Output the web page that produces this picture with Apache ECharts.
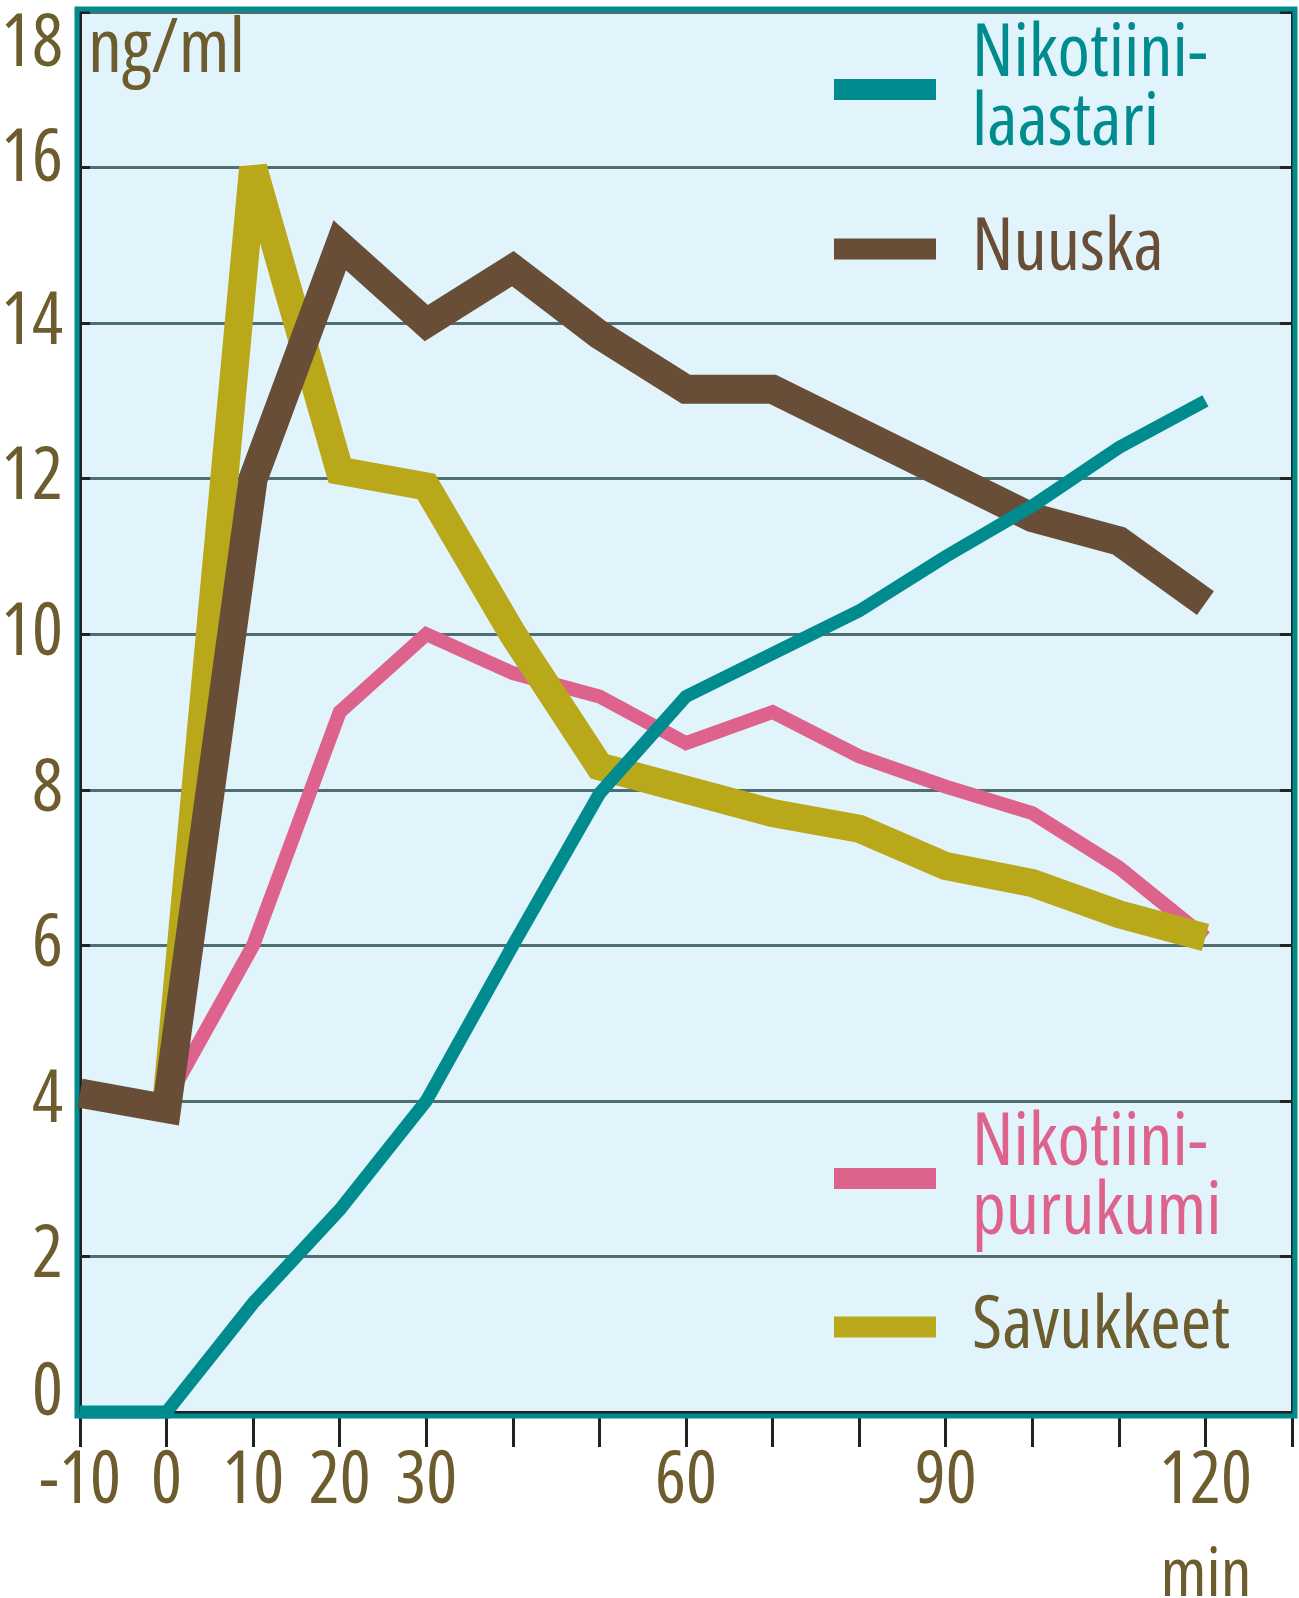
<!DOCTYPE html>
<html>
<head>
<meta charset="utf-8">
<script src="https://cdn.jsdelivr.net/npm/echarts@6/dist/echarts.min.js"></script>
<style>
  html, body { margin: 0; padding: 0; background: #ffffff; }
  #chart { width: 1299px; height: 1598px; }
</style>
</head>
<body>
<div id="chart"></div>
<script>
// ---- data ----
const minutes = [-10, 0, 10, 20, 30, 40, 50, 60, 70, 80, 90, 100, 110, 120];
const laastari = [0, 0, 1.4, 2.6, 4.0, 6.0, 7.95, 9.2, 9.75, 10.3, 11.0, 11.65, 12.4, 13.0];
const nuuska = [4.1, 3.9, 12.0, 15.0, 14.0, 14.7, 13.85, 13.15, 13.15, 12.6, 12.05, 11.5, 11.2, 10.4];
const purukumi = [null, 4.0, 6.0, 9.0, 10.0, 9.5, 9.2, 8.6, 9.0, 8.43, 8.04, 7.7, 7.0, 6.1];
const savukkeet = [null, 4.0, 16.0, 12.1, 11.9, 10.0, 8.3, 8.0, 7.7, 7.5, 7.02, 6.8, 6.4, 6.1];

const seriesNames = ['Nikotiinilaastari', 'Nuuska', 'Nikotiinipurukumi', 'Savukkeet'];
const legendLabels = ['Nikotiini-\nlaastari', 'Nuuska', 'Nikotiini-\npurukumi', 'Savukkeet'];
const xTickLabels = [-10, 0, 10, 20, 30, 60, 90, 120];
const yUnit = 'ng/ml';
const xUnit = 'min';

// ---- pick the narrowest installed sans font ----
const mctx = document.createElement('canvas').getContext('2d');
function measure(font, s) { mctx.font = '10px monospace'; mctx.font = font; return { w: mctx.measureText(s).width, f: mctx.font }; }
const CANDS = ['Liberation Sans Narrow', 'DejaVu Sans Condensed', 'Roboto Condensed', 'Open Sans Condensed', 'Noto Sans', 'Open Sans', 'Roboto', 'Liberation Sans', 'DejaVu Sans', 'Lato', 'Inter'];
const STRETCH = ['', 'ultra-condensed', 'extra-condensed', 'condensed', 'semi-condensed'];
const TEST = 'Nikotiini-laastari 0123456789';
const monoW = measure('100px monospace', TEST).w;
let best = { fam: 'Liberation Sans', st: '', w: Infinity };
for (const fam of CANDS) {
  const base = measure('100px "' + fam + '", monospace', TEST);
  if (Math.abs(base.w - monoW) < 0.5) continue;
  for (const st of STRETCH) {
    const m = measure((st ? st + ' ' : '') + '100px "' + fam + '", monospace', TEST);
    if (m.f.indexOf(fam) < 0 || m.w < base.w * 0.4) continue;
    if (m.w < best.w - 0.5) best = { fam, st, w: m.w };
  }
}
const FONT = '"' + best.fam + '", sans-serif';
const FSTYLE = best.st || 'normal';
const fontAt = size => (best.st ? best.st + ' ' : '') + size + 'px ' + FONT;
const fitSize = (s, target, maxSize) => Math.min(maxSize, 100 * target / measure(fontAt(100), s).w);

const TICK_FS = fitSize('20', 62, 92);
const LEG_FS = fitSize('Nikotiini-', 236, 94);
const UNIT_FS = fitSize('ng/ml', 157, 100);
const MIN_FS = fitSize('min', 91, 100);
const MIN_W = measure(fontAt(MIN_FS), xUnit).w;

// ---- style ----
const TEXT = '#6d5c2d';
const TEAL = '#008b8f';
const BROWN = '#694e37';
const PINK = '#dd638c';
const YELLOW = '#b8a81a';
const GRIDC = '#4f6f6f';
const AXISC = '#222222';

const GRID = { left: 80, right: 7, top: 12, bottom: 186 };
const W = 1299, H = 1598;

const pairs = arr => minutes.map((m, i) => [m, arr[i]]);
const txt = (color, size, lh, extra) => Object.assign({ color, fontFamily: FONT, fontStyle: FSTYLE, fontSize: size, lineHeight: lh }, extra || {});

function lineSeries(name, data, color, width, z) {
  return {
    name, type: 'line', data: pairs(data), z,
    symbol: 'none', showSymbol: false, clip: false, connectNulls: false,
    lineStyle: { color, width, cap: 'butt', join: 'miter', miterLimit: 4 },
    itemStyle: { color },
    emphasis: { disabled: true },
    animation: false
  };
}

function legendFor(idx, top, textColor) {
  return {
    data: [seriesNames[idx]],
    left: 834, top, padding: 0,
    icon: 'rect', itemWidth: 102, itemHeight: 21,
    selectedMode: false,
    formatter: n => legendLabels[seriesNames.indexOf(n)],
    textStyle: txt(textColor, LEG_FS, 69, { padding: [0, 0, 0, 31] })
  };
}

const chart = echarts.init(document.getElementById('chart'), null, { renderer: 'canvas', width: W, height: H });

const unitTop = 77 - 0.8465 * UNIT_FS;       // baseline of "ng/ml" near y=77
const minTop = 1600 - 0.8465 * MIN_FS;        // baseline of "min" near y=1600
const axisY = H - GRID.bottom;
const axisRight = W - GRID.right;
const minCenterX = 1206;                      // "min" sits under the 120 label

const option = {
  animation: false,
  backgroundColor: '#ffffff',
  grid: {
    left: GRID.left, right: GRID.right, top: GRID.top, bottom: GRID.bottom,
    containLabel: false, outerBoundsMode: 'none',
    show: true, backgroundColor: '#e1f4fb', borderWidth: 0
  },
  graphic: [{
    type: 'rect', z: 1, silent: true,
    shape: { x: GRID.left - 3, y: GRID.top - 3, width: W - GRID.left - GRID.right + 6, height: H - GRID.top - GRID.bottom + 7 },
    style: { fill: null, stroke: TEAL, lineWidth: 5 }
  }],
  legend: [
    legendFor(0, 18, TEAL),
    legendFor(1, 212, BROWN),
    legendFor(2, 1107, PINK),
    legendFor(3, 1290, TEXT)
  ],
  xAxis: {
    type: 'value', min: -10, max: 130, interval: 10,
    name: xUnit, nameLocation: 'end', nameGap: 0, nameMoveOverlap: false,
    nameTextStyle: txt(TEXT, MIN_FS, MIN_FS, {
      align: 'right', verticalAlign: 'top',
      padding: [minTop - axisY, axisRight - minCenterX - MIN_W / 2, 0, 0]
    }),
    axisLine: { show: true, onZero: false, lineStyle: { color: AXISC, width: 3 } },
    axisTick: { show: true, inside: false, length: 35, lineStyle: { color: AXISC, width: 3 } },
    axisLabel: Object.assign(txt(TEXT, TICK_FS, TICK_FS), {
      margin: 70 - TICK_FS / 2,
      hideOverlap: false,
      formatter: v => xTickLabels.includes(v) ? String(v) : ''
    }),
    splitLine: { show: false }
  },
  yAxis: [{
    type: 'value', min: 0, max: 18, interval: 2, position: 'left',
    name: yUnit, nameLocation: 'end', nameGap: GRID.top - unitTop, nameMoveOverlap: false,
    nameTextStyle: txt(TEXT, UNIT_FS, UNIT_FS, { align: 'left', verticalAlign: 'top', padding: [0, 0, 0, 8] }),
    axisLine: { show: true, onZero: false, lineStyle: { color: AXISC, width: 3 } },
    axisTick: { show: true, inside: true, length: 10, lineStyle: { color: AXISC, width: 3 } },
    axisLabel: Object.assign(txt(TEXT, TICK_FS, TICK_FS), {
      margin: 17,
      hideOverlap: false,
      formatter: v => v === 18 ? '{top|18}' : (v === 0 ? '{bot|0}' : (v === 16 ? '{up|16}' : String(v))),
      rich: {
        top: txt(TEXT, TICK_FS, TICK_FS, { padding: [66, 0, 0, 0] }),
        bot: txt(TEXT, TICK_FS, TICK_FS, { padding: [0, 0, 36, 0] }),
        up: txt(TEXT, TICK_FS, TICK_FS, { padding: [0, 0, 14, 0] })
      }
    }),
    splitLine: { show: true, lineStyle: { color: GRIDC, width: 3 } }
  }, {
    type: 'value', min: 0, max: 18, interval: 2, position: 'right',
    axisLine: { show: true, onZero: false, lineStyle: { color: AXISC, width: 3 } },
    axisTick: { show: true, inside: true, length: 12, lineStyle: { color: AXISC, width: 3 } },
    axisLabel: { show: false },
    splitLine: { show: false }
  }],
  series: [
    lineSeries(seriesNames[2], purukumi, PINK, 14, 2),
    lineSeries(seriesNames[3], savukkeet, YELLOW, 28, 3),
    lineSeries(seriesNames[1], nuuska, BROWN, 29, 4),
    lineSeries(seriesNames[0], laastari, TEAL, 13, 5)
  ]
};

chart.setOption(option);
</script>
</body>
</html>
